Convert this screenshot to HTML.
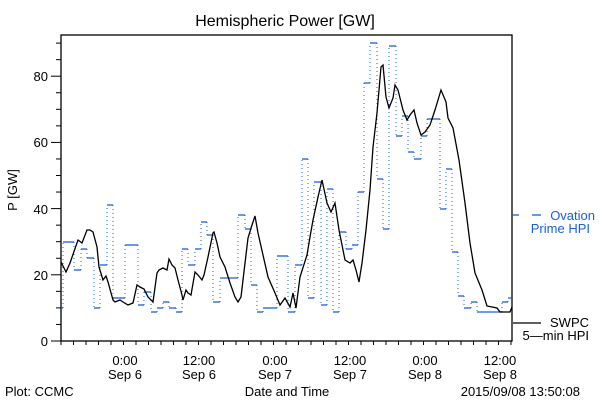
<!DOCTYPE html>
<html><head><style>
html,body{margin:0;padding:0;background:#fff;}
svg text{font-family:"Liberation Sans","DejaVu Sans",sans-serif;}
</style></head><body>
<svg width="600" height="400" viewBox="0 0 600 400" xmlns="http://www.w3.org/2000/svg">
<rect width="600" height="400" fill="#fff"/>
<text x="285" y="26" font-size="16" text-anchor="middle" fill="#000">Hemispheric Power [GW]</text>
<rect x="61" y="35" width="451" height="306" fill="none" stroke="#000" stroke-width="1.3"/>
<g stroke="#000" stroke-width="1" id="yt"></g>
<g stroke="#000" stroke-width="1" id="xt"></g>
<g font-size="13" fill="#000" text-anchor="end">
<text x="48" y="346">0</text><text x="48" y="280">20</text><text x="48" y="214">40</text><text x="48" y="147">60</text><text x="48" y="81">80</text>
</g>
<text transform="translate(17,190) rotate(-90)" font-size="13" text-anchor="middle">P [GW]</text>
<g font-size="13" text-anchor="middle">
<text x="125" y="365">0:00</text><text x="125" y="379">Sep 6</text>
<text x="199" y="365">12:00</text><text x="199" y="379">Sep 6</text>
<text x="275" y="365">0:00</text><text x="275" y="379">Sep 7</text>
<text x="350" y="365">12:00</text><text x="350" y="379">Sep 7</text>
<text x="425" y="365">0:00</text><text x="425" y="379">Sep 8</text>
<text x="500" y="365">12:00</text><text x="500" y="379">Sep 8</text>
</g>
<text x="5" y="396" font-size="13">Plot: CCMC</text>
<text x="287" y="396" font-size="13" text-anchor="middle">Date and Time</text>
<text x="580" y="396" font-size="13" text-anchor="end">2015/09/08 13:50:08</text>
<g stroke="#1a5fe0" stroke-width="1.3">
<line x1="513" y1="215" x2="519" y2="215"/><line x1="532" y1="215" x2="541" y2="215"/>
</g>
<text x="595" y="220" font-size="13" fill="#1a5fe0" text-anchor="end">Ovation</text>
<text x="590" y="233" font-size="13" fill="#1a5fe0" text-anchor="end">Prime HPI</text>
<line x1="513" y1="323" x2="541" y2="323" stroke="#000" stroke-width="1.3"/>
<text x="589" y="327" font-size="13" text-anchor="end">SWPC</text>
<text x="589" y="340" font-size="13" text-anchor="end">5—min HPI</text>
<g id="blue"></g>
<polyline fill="none" stroke="#000" stroke-width="1.3" points="61,262 66,272 70,263 78,240 82,243 87,230 90,230 93,232 97,247 99,267 103,280 106,276 108,282 113,300 115,302 120,300 123,302 128,305 133,303 137,285 140,287 144,289 148,297 153,302 157,273 159,270 163,268 167,270 169,259 172,265 175,268 178,280 182,295 183,300 186,290 188,293 191,295 195,272 198,275 202,280 204,275 208,257 213,233 214,232 217,243 220,257 225,267 230,283 235,297 238,302 241,297 243,280 248,238 252,225 255,216 258,233 263,255 268,277 275,293 280,305 285,298 290,307 293,293 296,308 300,277 307,255 310,237 313,220 318,197 322,180 327,203 331,212 335,203 339,230 345,260 350,263 353,260 356,270 359,282 362,263 366,230 370,190 373,147 377,113 381,67 383,65 386,97 389,108 393,98 395,85 398,90 403,110 407,120 410,115 414,110 417,123 421,135 425,132 430,125 435,110 441,90 446,102 448,118 453,128 459,160 465,203 470,243 475,273 482,290 487,306 497,308 500,312 510,312 512,307"/>
</svg>
<script>
(function(){
var ns="http://www.w3.org/2000/svg";
var yt=document.getElementById("yt");
for(var v=0;v<=90;v+=5){var y=341-3.31*v;var l=document.createElementNS(ns,"line");
var x1=(v%20==0)?51:56;l.setAttribute("x1",x1);l.setAttribute("x2",61);l.setAttribute("y1",y);l.setAttribute("y2",y);yt.appendChild(l);}
var xt=document.getElementById("xt");
for(var i=0;i<=36;i++){var x=61+i*12.5;if(x>512.5)break;var l=document.createElementNS(ns,"line");
var h=(Math.abs(x-124.5)%75<1||Math.abs((x-124.5)%75-75)<1)?8:4;
l.setAttribute("x1",x);l.setAttribute("x2",x);l.setAttribute("y1",341);l.setAttribute("y2",341+h);xt.appendChild(l);}
var s=[[61,63,308],[63,74,242],[74,81,270],[81,87,249],[87,94,258],[94,100,308],[100,107,265],[107,113,205],[113,125,298],[125,138,245],[138,144,305],[144,151,292],[151,157,312],[157,163,308],[163,169,302],[169,176,308],[176,182,312],[182,188,249],[188,195,265],[195,201,249],[201,207,222],[207,213,235],[213,220,302],[220,238,278],[238,245,215],[245,251,229],[251,257,285],[257,263,312],[263,277,308],[277,288,256],[288,295,312],[295,302,265],[302,308,159],[308,314,298],[314,321,182],[321,327,305],[327,333,189],[333,339,312],[339,346,232],[346,352,249],[352,358,245],[358,364,192],[364,370,83],[370,377,43],[377,383,179],[383,389,229],[389,396,46],[396,402,136],[402,408,116],[408,414,152],[414,421,159],[421,427,136],[427,440,119],[440,446,209],[446,452,169],[452,458,252],[458,464,296],[464,471,308],[471,477,302],[477,502,312],[502,508,302],[508,512,298]];
var g=document.getElementById("blue");
for(var k=0;k<s.length;k++){var a=s[k];
var l=document.createElementNS(ns,"line");l.setAttribute("x1",a[0]);l.setAttribute("x2",a[1]);l.setAttribute("y1",a[2]);l.setAttribute("y2",a[2]);l.setAttribute("stroke","#1a5fe0");l.setAttribute("stroke-width","1.3");g.appendChild(l);
if(k+1<s.length){var v2=document.createElementNS(ns,"line");v2.setAttribute("x1",a[1]);v2.setAttribute("x2",a[1]);v2.setAttribute("y1",a[2]);v2.setAttribute("y2",s[k+1][2]);v2.setAttribute("stroke","#1a5fe0");v2.setAttribute("stroke-width","1");v2.setAttribute("stroke-dasharray","1,3");g.appendChild(v2);}}
})();
</script>
</body></html>
